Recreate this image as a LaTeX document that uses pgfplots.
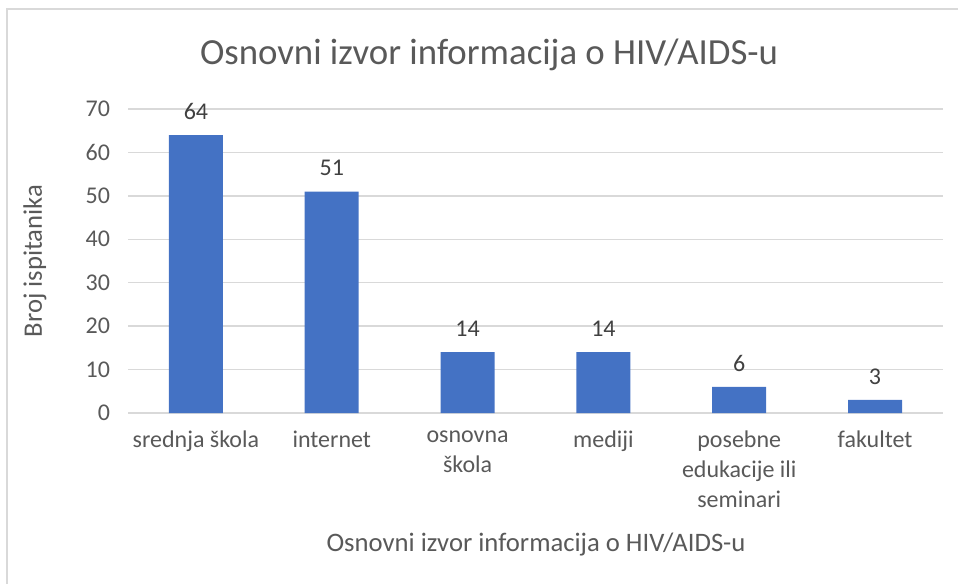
\documentclass[border=0pt]{standalone}
\usepackage{pgfplots}
\pgfplotsset{compat=1.18}
\usepackage{fontspec}
\setmainfont{Carlito}
\definecolor{barblue}{HTML}{4472C4}
\definecolor{txtgray}{HTML}{595959}
\definecolor{lblgray}{HTML}{404040}
\definecolor{gridgray}{HTML}{D9D9D9}
\begin{document}
\begin{tikzpicture}
\useasboundingbox (0,0) rectangle (718.5pt,437.25pt);
\clip (0,0) rectangle (718.5pt,437.25pt);
\draw[gridgray, line width=1pt] (5.25pt,-10pt) rectangle (730pt,430.5pt);
\begin{axis}[
  at={(96pt,127.5pt)}, anchor=south west,
  scale only axis, width=611.25pt, height=228pt,
  /pgf/number format/assume math mode=true,
  ymin=0, ymax=70, ytick={0,10,...,70},
  xmin=-0.5, xmax=5.5,
  xtick={0,1,2,3,4,5},
  xticklabels={srednja škola, internet, {osnovna\\škola}, mediji, {posebne\\edukacije ili\\seminari}, fakultet},
  axis x line*=bottom, axis y line*=left,
  x axis line style={gridgray, line width=1pt},
  y axis line style={draw=none},
  ymajorgrids, grid style={gridgray, line width=1pt},
  major tick length=0pt,
  xtick style={draw=none}, ytick style={draw=none},
  tick label style={font=\fontsize{18}{22.5}\selectfont, text=txtgray},
  xticklabel style={align=center, anchor=north, yshift=-10pt},
  yticklabel style={anchor=east, xshift=-10pt},
  ybar, bar width=40.5pt,
  nodes near coords,
  nodes near coords style={font=\fontsize{18}{22}\selectfont, text=lblgray, anchor=south, yshift=8pt},
  clip=false,
]
\addplot[fill=barblue, draw=none] coordinates {(0,64) (1,51) (2,14) (3,14) (4,6) (5,3)};
\end{axis}
\node[text=txtgray, font=\fontsize{27.6}{33}\selectfont] at (366.75pt,396pt) {Osnovni izvor informacija o HIV/AIDS-u};
\node[text=txtgray, font=\fontsize{20}{24}\selectfont, rotate=90] at (26.25pt,241.5pt) {Broj ispitanika};
\node[text=txtgray, font=\fontsize{20}{24}\selectfont] at (402pt,28.5pt) {Osnovni izvor informacija o HIV/AIDS-u};
\end{tikzpicture}
\end{document}
